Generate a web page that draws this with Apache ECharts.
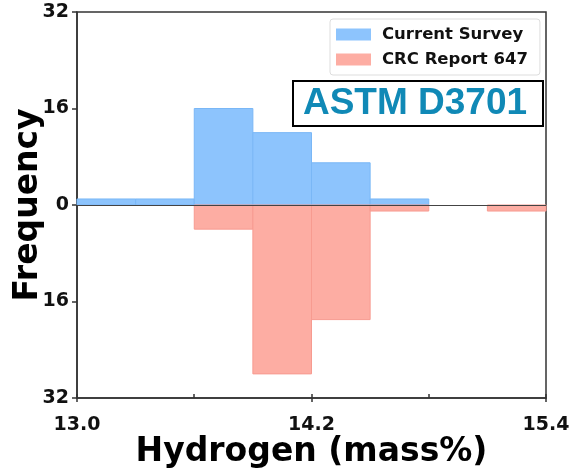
<!DOCTYPE html>
<html>
<head>
<meta charset="utf-8">
<script src="https://cdn.jsdelivr.net/npm/echarts@6/dist/echarts.min.js"></script>
<style>html,body{margin:0;padding:0;background:#fff}#chart{width:574px;height:473px}</style>
</head>
<body>
<div id="chart"></div>
<script>
// Histogram bin edges (Hydrogen, mass%)
var binEdges = [13.0, 13.3, 13.6, 13.9, 14.2, 14.5, 14.8, 15.1, 15.4];
// Counts per bin
var currentSurvey = [1, 1, 16, 12, 7, 1, 0, 0];
var crcReport647 = [0, 0, 4, 28, 19, 1, 0, 1];
var seriesNames = ['Current Survey', 'CRC Report 647'];
var yTicks = [-32, -16, 0, 16, 32];
var xTicks = [13.0, 14.2, 15.4];
var annotation = 'ASTM D3701';

var BLUE = '#8dc4fd', BLUE_EDGE = '#7ab7f6';
var RED = '#fdada3', RED_EDGE = '#f79b90';
var FONT = 'DejaVu Sans';

function toData(counts, sign) {
  var out = [];
  for (var i = 0; i < counts.length; i++) {
    if (counts[i] > 0) out.push([binEdges[i], binEdges[i + 1], sign * counts[i]]);
  }
  return out;
}

function makeRender(edge) {
  return function (params, api) {
    var p0 = api.coord([api.value(0), 0]);
    var p1 = api.coord([api.value(1), api.value(2)]);
    var x = Math.min(p0[0], p1[0]), y = Math.min(p0[1], p1[1]);
    return {
      type: 'rect',
      shape: { x: x, y: y, width: Math.abs(p1[0] - p0[0]), height: Math.abs(p1[1] - p0[1]) },
      style: { fill: api.visual('color'), stroke: edge, lineWidth: 1 }
    };
  };
}

var chart = echarts.init(document.getElementById('chart'), null, { renderer: 'canvas' });
var axisLineStyle = { color: '#333', width: 1.5 };
chart.setOption({
  animation: false,
  backgroundColor: '#fff',
  grid: { left: 77, right: 28, top: 12, bottom: 75, containLabel: false, outerBoundsMode: 'none', show: true, borderColor: '#333', borderWidth: 1.5, backgroundColor: 'transparent' },
  legend: {
    orient: 'vertical', left: 330, top: 19,
    padding: [7, 12, 7, 6], itemGap: 8,
    itemWidth: 35, itemHeight: 12, icon: 'rect',
    backgroundColor: '#fff', borderColor: '#ddd', borderWidth: 1, borderRadius: 3,
    data: seriesNames,
    formatter: function (n) { return '{a|' + n + '}'; },
    textStyle: { rich: { a: { fontFamily: FONT, fontWeight: 'bold', fontSize: 16.5, lineHeight: 16, color: '#111', padding: [0, 0, 0, 6] } } }
  },
  xAxis: [{
    type: 'value', min: xTicks[0], max: xTicks[xTicks.length - 1], interval: 1.2,
    name: 'Hydrogen (mass%)', nameLocation: 'middle', nameGap: 38, nameMoveOverlap: false,
    nameTextStyle: { fontFamily: FONT, fontWeight: 'bold', fontSize: 33, color: '#000' },
    axisLine: { onZero: false, lineStyle: axisLineStyle },
    axisTick: { show: true, length: 4, lineStyle: { color: '#333', width: 1.5 } },
    axisLabel: { margin: 18, fontFamily: FONT, fontWeight: 'bold', fontSize: 19, color: '#111', formatter: function (v) { return v.toFixed(1); } },
    splitLine: { show: false }
  }, {
    type: 'value', min: xTicks[0], max: xTicks[xTicks.length - 1], interval: 0.6, position: 'bottom',
    axisLine: { show: false, onZero: false },
    axisTick: { show: true, inside: true, length: 4, lineStyle: { color: '#333', width: 1.5 } },
    axisLabel: { show: false }, splitLine: { show: false }
  }],
  yAxis: {
    type: 'value', min: yTicks[0], max: yTicks[yTicks.length - 1], interval: 16,
    name: 'Frequency', nameLocation: 'middle', nameGap: 32, nameMoveOverlap: false,
    nameTextStyle: { fontFamily: FONT, fontWeight: 'bold', fontSize: 33, color: '#000' },
    axisLine: { show: true, onZero: false, lineStyle: axisLineStyle },
    axisTick: { show: true, length: 5, lineStyle: { color: '#333', width: 1.5 } },
    axisLabel: { margin: 8, fontFamily: FONT, fontWeight: 'bold', fontSize: 19, color: '#111', formatter: function (v) { return String(Math.abs(v)); } },
    splitLine: { show: false }
  },
  series: [{
    name: seriesNames[0], type: 'custom', xAxisIndex: 0,
    itemStyle: { color: BLUE },
    encode: { x: [0, 1], y: 2 },
    renderItem: makeRender(BLUE_EDGE),
    data: toData(currentSurvey, 1),
    z: 2
  }, {
    name: seriesNames[1], type: 'custom', xAxisIndex: 0,
    itemStyle: { color: RED },
    encode: { x: [0, 1], y: 2 },
    renderItem: makeRender(RED_EDGE),
    data: toData(crcReport647, -1),
    z: 2,
    markLine: {
      silent: true, symbol: 'none', label: { show: false },
      lineStyle: { color: '#444', width: 1, type: 'solid' },
      data: [{ yAxis: 0 }], z: 5
    }
  }],
  graphic: [{
    type: 'group', left: 292, top: 80, z: 100,
    children: [{
      type: 'rect', shape: { x: 0, y: 0, width: 250, height: 45 },
      style: { fill: '#fff', stroke: '#000', lineWidth: 2 }
    }, {
      type: 'text', x: 122, y: 23,
      style: { text: annotation, fill: '#1089b6', font: 'bold 37px "Liberation Sans", Arial, sans-serif', textAlign: 'center', textVerticalAlign: 'middle' }
    }]
  }]
});
</script>
</body>
</html>
